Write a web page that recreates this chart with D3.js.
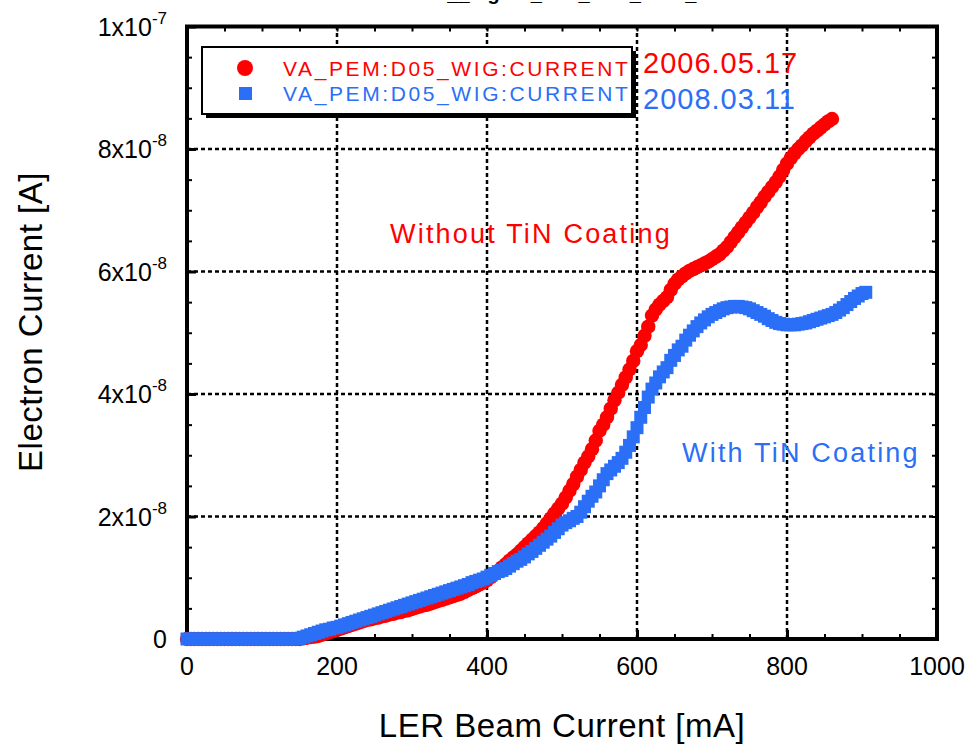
<!DOCTYPE html>
<html>
<head>
<meta charset="utf-8">
<script src="https://cdn.jsdelivr.net/npm/d3@7"></script>
<style>
  body { margin: 0; background: #fff; }
  svg text { font-family: "Liberation Sans", Arial, sans-serif; }
  .grid { stroke: #000; stroke-width: 2.5; stroke-dasharray: 4,3; }
  .axis path { display: none; }
  .axis line { stroke: #000; }
</style>
</head>
<body>
<div id="chart"></div>
<script>
var w = 971;
var h = 746;

// beam current [mA] and electron current [x1e-8 A] (every 5 mA)
var redCurrent = [0,5,10,15,20,25,30,35,40,45,50,55,60,65,70,75,80,85,90,95,
  100,105,110,115,120,125,130,135,140,145,150,155,160,165,170,175,180,185,190,195,
  200,205,210,215,220,225,230,235,240,245,250,255,260,265,270,275,280,285,290,295,
  300,305,310,315,320,325,330,335,340,345,350,355,360,365,370,375,380,385,390,395,
  400,405,410,415,420,425,430,435,440,445,450,455,460,465,470,475,480,485,490,495,
  500,505,510,515,520,525,530,535,540,545,550,555,560,565,570,575,580,585,590,595,
  600,605,610,615,620,625,630,635,640,645,650,655,660,665,670,675,680,685,690,695,
  700,705,710,715,720,725,730,735,740,745,750,755,760,765,770,775,780,785,790,795,
  800,805,810,815,820,825,830,835,840,845,850,855,860];
var redElectron = [0,0,0,0,0,0,0,0,0,0,0,0,0,0,0,0,0,0,0,0,
  0,0,0,0,0,0,0,0,0,0,0.00,0.01,0.02,0.03,0.04,0.05,0.07,0.09,0.11,0.13,
  0.15,0.17,0.19,0.21,0.23,0.25,0.27,0.29,0.31,0.32,0.34,0.35,0.37,0.38,0.40,0.41,0.43,0.44,0.46,0.47,
  0.49,0.51,0.53,0.55,0.56,0.58,0.60,0.62,0.64,0.66,0.68,0.70,0.72,0.74,0.77,0.80,0.83,0.86,0.89,0.92,
  0.96,1.01,1.06,1.11,1.17,1.22,1.28,1.33,1.38,1.44,1.50,1.56,1.62,1.68,1.74,1.81,1.89,1.97,2.05,2.13,
  2.21,2.31,2.42,2.53,2.65,2.76,2.88,2.98,3.10,3.24,3.40,3.50,3.62,3.76,3.90,4.02,4.15,4.27,4.40,4.54,
  4.70,4.80,4.95,5.10,5.28,5.38,5.46,5.52,5.58,5.70,5.80,5.87,5.92,5.97,6.01,6.04,6.07,6.10,6.13,6.16,
  6.20,6.24,6.28,6.34,6.40,6.48,6.56,6.64,6.72,6.80,6.88,6.96,7.05,7.13,7.22,7.30,7.38,7.46,7.55,7.66,
  7.76,7.85,7.93,8.00,8.06,8.13,8.19,8.25,8.30,8.35,8.40,8.45,8.49];

var blueCurrent = [0,5,10,15,20,25,30,35,40,45,50,55,60,65,70,75,80,85,90,95,
  100,105,110,115,120,125,130,135,140,145,150,155,160,165,170,175,180,185,190,195,
  200,205,210,215,220,225,230,235,240,245,250,255,260,265,270,275,280,285,290,295,
  300,305,310,315,320,325,330,335,340,345,350,355,360,365,370,375,380,385,390,395,
  400,405,410,415,420,425,430,435,440,445,450,455,460,465,470,475,480,485,490,495,
  500,505,510,515,520,525,530,535,540,545,550,555,560,565,570,575,580,585,590,595,
  600,605,610,615,620,625,630,635,640,645,650,655,660,665,670,675,680,685,690,695,
  700,705,710,715,720,725,730,735,740,745,750,755,760,765,770,775,780,785,790,795,
  800,805,810,815,820,825,830,835,840,845,850,855,860,865,870,875,880,885,890,895,
  900,905];
var blueElectron = [0,0,0,0,0,0,0,0,0,0,0,0,0,0,0,0,0,0,0,0,
  0,0,0,0,0,0,0,0,0,0,0.01,0.03,0.05,0.07,0.09,0.11,0.13,0.15,0.16,0.18,
  0.19,0.21,0.23,0.25,0.27,0.29,0.31,0.33,0.35,0.37,0.39,0.41,0.43,0.45,0.47,0.49,0.51,0.53,0.55,0.57,
  0.59,0.61,0.63,0.65,0.67,0.69,0.71,0.73,0.75,0.77,0.79,0.81,0.83,0.85,0.87,0.89,0.92,0.94,0.96,0.98,
  1.01,1.04,1.07,1.10,1.12,1.15,1.19,1.23,1.27,1.30,1.34,1.39,1.43,1.48,1.53,1.58,1.63,1.68,1.74,1.80,
  1.86,1.90,1.93,1.97,2.00,2.07,2.16,2.25,2.33,2.40,2.50,2.60,2.70,2.76,2.82,2.88,2.95,3.05,3.16,3.30,
  3.45,3.62,3.78,3.95,4.08,4.18,4.28,4.36,4.43,4.55,4.63,4.72,4.78,4.88,4.96,5.03,5.10,5.16,5.21,5.26,
  5.30,5.33,5.36,5.39,5.41,5.42,5.43,5.43,5.42,5.41,5.39,5.36,5.33,5.30,5.27,5.23,5.20,5.17,5.15,5.14,
  5.13,5.13,5.13,5.14,5.15,5.16,5.18,5.20,5.22,5.24,5.26,5.28,5.30,5.33,5.37,5.41,5.46,5.51,5.56,5.60,
  5.64,5.66];

var xTicks = [0,200,400,600,800,1000];
var yTicks = [0,2e-8,4e-8,6e-8,8e-8,1e-7];
var yTickMantissa = ["0","2x10","4x10","6x10","8x10","1x10"];
var yTickExponent = ["","-8","-8","-8","-8","-7"];

var legendNames = ["VA_PEM:D05_WIG:CURRENT","VA_PEM:D05_WIG:CURRENT"];
var legendDates = ["2006.05.17","2008.03.11"];

var red = "#ff0000";
var blue = "#2b6ff7";

var svg = d3.select("#chart")
            .append("svg")
            .attr("width", w)
            .attr("height", h);

var xScale = d3.scaleLinear().domain([0,1000]).range([187,937]);
var yScale = d3.scaleLinear().domain([0,1e-7]).range([639,26.5]);

// title, mostly above the top edge of the picture
svg.append("text")
    .attr("x", 583)
    .attr("y", 0)
    .attr("text-anchor", "middle")
    .style("font-size", "20px")
    .style("font-weight", "bold")
    .text("__Figure_D05_WIG_2008_03");

// grid
svg.selectAll(".gx")
    .data(xTicks.slice(1, -1))
    .enter().append("line")
    .attr("class", "grid")
    .attr("x1", function(d){ return xScale(d); })
    .attr("x2", function(d){ return xScale(d); })
    .attr("y1", yScale(0))
    .attr("y2", yScale(1e-7));
svg.selectAll(".gy")
    .data(yTicks.slice(1, -1))
    .enter().append("line")
    .attr("class", "grid")
    .attr("x1", xScale(0))
    .attr("x2", xScale(1000))
    .attr("y1", function(d){ return yScale(d); })
    .attr("y2", function(d){ return yScale(d); });

// minor + major ticks, inward, on all four sides
var minorX = d3.range(0, 1001, 50);
var minorY = d3.range(0, 1.0001e-7, 0.5e-8);
function tickAxis(axis, values, size, width, tr){
    svg.append("g")
        .attr("class", "axis")
        .attr("transform", tr)
        .call(axis.tickValues(values).tickSize(size).tickFormat(""))
        .selectAll("line").attr("stroke-width", width);
}
tickAxis(d3.axisBottom(xScale), minorX, -5, 2, "translate(0," + yScale(0) + ")");
tickAxis(d3.axisTop(xScale), minorX, -5, 2, "translate(0," + yScale(1e-7) + ")");
tickAxis(d3.axisLeft(yScale), minorY, -5, 2, "translate(" + xScale(0) + ",0)");
tickAxis(d3.axisRight(yScale), minorY, -5, 2, "translate(" + xScale(1000) + ",0)");
tickAxis(d3.axisBottom(xScale), xTicks, -9, 3, "translate(0," + yScale(0) + ")");
tickAxis(d3.axisLeft(yScale), yTicks, -9, 3, "translate(" + xScale(0) + ",0)");

// frame
svg.append("rect")
    .attr("x", xScale(0))
    .attr("y", yScale(1e-7))
    .attr("width", xScale(1000) - xScale(0))
    .attr("height", yScale(0) - yScale(1e-7))
    .attr("fill", "none")
    .attr("stroke", "#000")
    .attr("stroke-width", 4);

// x tick labels
svg.selectAll(".xl")
    .data(xTicks)
    .enter().append("text")
    .attr("x", function(d){ return xScale(d); })
    .attr("y", 675)
    .attr("text-anchor", "middle")
    .style("font-size", "25px")
    .text(function(d){ return d; });

// y tick labels with exponents
var yl = svg.selectAll(".yl")
    .data(yTicks)
    .enter().append("text")
    .attr("x", 167)
    .attr("y", function(d){ return yScale(d) + 9; })
    .attr("text-anchor", "end")
    .style("font-size", "25px");
yl.append("tspan").text(function(d, i){ return yTickMantissa[i]; });
yl.append("tspan")
    .attr("dy", -12)
    .style("font-size", "17px")
    .text(function(d, i){ return yTickExponent[i]; });

// axis titles
svg.append("text")
    .attr("x", xScale(500))
    .attr("y", 737)
    .attr("text-anchor", "middle")
    .style("font-size", "33px")
    .style("letter-spacing", "0.5px")
    .text("LER Beam Current [mA]");
svg.append("text")
    .attr("transform", "translate(42," + 322 + ") rotate(-90)")
    .attr("text-anchor", "middle")
    .style("font-size", "33px")
    .style("letter-spacing", "0.5px")
    .text("Electron Current [A]");

// series, red first, blue on top
svg.selectAll(".red")
    .data(redCurrent)
    .enter().append("circle")
    .attr("cx", function(d){ return xScale(d); })
    .attr("cy", function(d, i){ return yScale(redElectron[i] * 1e-8); })
    .attr("r", 7.2)
    .attr("fill", red);
svg.selectAll(".blue")
    .data(blueCurrent)
    .enter().append("rect")
    .attr("x", function(d){ return xScale(d) - 6.5; })
    .attr("y", function(d, i){ return yScale(blueElectron[i] * 1e-8) - 6.5; })
    .attr("width", 13)
    .attr("height", 13)
    .attr("fill", blue);

// legend box with shadow
svg.append("rect").attr("x", 206).attr("y", 51).attr("width", 430).attr("height", 67).attr("fill", "#000");
svg.append("rect").attr("x", 202).attr("y", 47).attr("width", 430).attr("height", 67)
    .attr("fill", "#fff").attr("stroke", "#000").attr("stroke-width", 2);
svg.append("circle").attr("cx", 245).attr("cy", 68).attr("r", 8).attr("fill", red);
svg.append("rect").attr("x", 239).attr("y", 87).attr("width", 13).attr("height", 13).attr("fill", blue);
svg.selectAll(".lg")
    .data(legendNames)
    .enter().append("text")
    .attr("x", 283)
    .attr("y", function(d, i){ return 76 + i * 25; })
    .attr("fill", function(d, i){ return i ? blue : red; })
    .style("font-size", "21px")
    .style("letter-spacing", "2.6px")
    .text(function(d){ return d; });
svg.selectAll(".dt")
    .data(legendDates)
    .enter().append("text")
    .attr("x", 643)
    .attr("y", function(d, i){ return 73 + i * 36; })
    .attr("fill", function(d, i){ return i ? blue : red; })
    .style("font-size", "29px")
    .style("letter-spacing", "1px")
    .text(function(d){ return d; });

// annotations
svg.append("text").attr("x", 390).attr("y", 243).attr("fill", red)
    .style("font-size", "27px").style("letter-spacing", "2.2px")
    .text("Without TiN Coating");
svg.append("text").attr("x", 682).attr("y", 462).attr("fill", blue)
    .style("font-size", "27px").style("letter-spacing", "2.2px")
    .text("With TiN Coating");
</script>
</body>
</html>
